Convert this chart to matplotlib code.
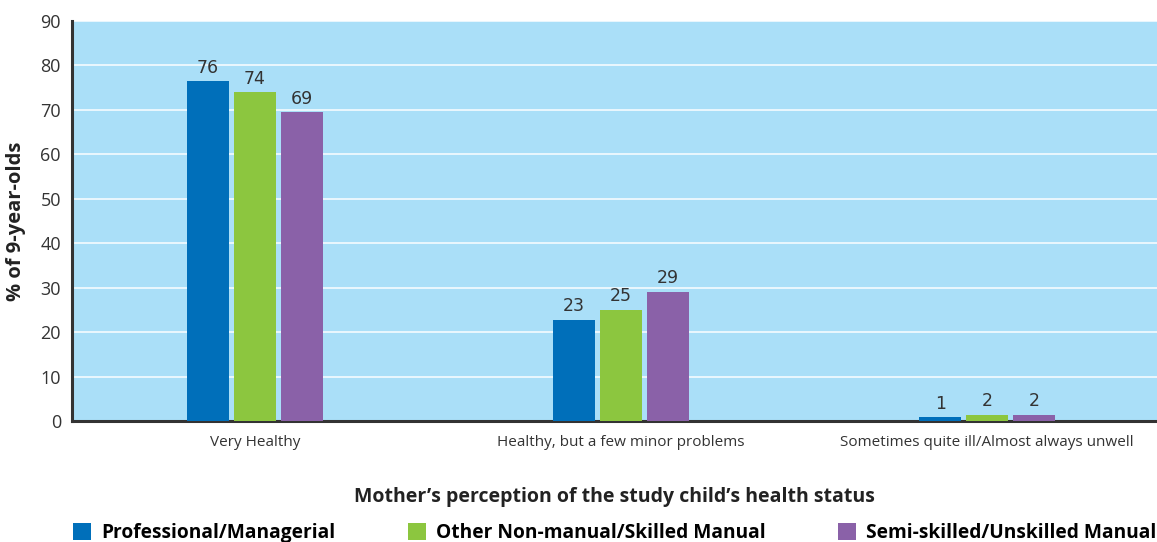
import matplotlib.pyplot as plt
import numpy as np

# data
categories = ['Very Healthy', 'Healthy, but a few minor problems',
              'Sometimes quite ill/Almost always unwell']
groups = ['Professional/Managerial', 'Other Non-manual/Skilled Manual',
          'Semi-skilled/Unskilled Manual']
professional = [76.5, 22.8, 0.9]
non_manual = [74.0, 25.0, 1.4]
semi_skilled = [69.5, 29.1, 1.4]
value_labels = [[76, 23, 1], [74, 25, 2], [69, 29, 2]]

colors = ['#006fba', '#8cc63f', '#8a61a8']
bg = '#aadff8'

plt.rcParams['font.family'] = ['Open Sans', 'DejaVu Sans']

fig = plt.figure(figsize=(11.57, 5.42), dpi=100)
ax = fig.add_axes([72 / 1157, 121 / 542, 1 - 72 / 1157, 400 / 542])
ax.set_facecolor(bg)

x = np.arange(len(categories))
width = 0.1146
step = 0.128
series = [professional, non_manual, semi_skilled]
for i, (vals, col, lab) in enumerate(zip(series, colors, groups)):
    pos = x + (i - 1) * step
    ax.bar(pos, vals, width=width, color=col, label=lab, zorder=3)
    for p, v, t in zip(pos, vals, value_labels[i]):
        ax.text(p, v + 1.0, str(t), ha='center', va='bottom', fontsize=12.5,
                color='#333333', family=['Liberation Sans Narrow', 'DejaVu Sans'])

ax.set_ylim(0, 90)
ax.set_xlim(-0.5, 2.464)
ax.set_yticks(range(0, 91, 10))
ax.yaxis.grid(True, color='white', linewidth=1.4, alpha=0.75, zorder=1)
ax.set_axisbelow(True)
ax.set_xticks(x)
ax.set_xticklabels(categories, fontsize=11, color='#333333')
ax.tick_params(axis='y', labelsize=13, colors='#333333', length=0, pad=8)
ax.tick_params(axis='x', length=0, pad=10)

for s in ['top', 'right']:
    ax.spines[s].set_visible(False)
for s in ['left', 'bottom']:
    ax.spines[s].set_color('#333333')
    ax.spines[s].set_linewidth(2.2)

ax.set_ylabel('% of 9-year-olds', fontsize=14.5, fontweight='bold',
              color='#222222', labelpad=10)
ax.set_xlabel('Mother\u2019s perception of the study child\u2019s health status',
              fontsize=14, fontweight='bold', color='#222222', labelpad=27)

fig.legend(loc='lower left', bbox_to_anchor=(73 / 1157, -0.002), ncol=3,
           frameon=False, handlelength=0.95, handleheight=0.95,
           handletextpad=0.5, columnspacing=3.8, borderpad=0,
           borderaxespad=0, prop={'weight': 'bold', 'size': 13.8})

fig.savefig('out.png', dpi=100)
